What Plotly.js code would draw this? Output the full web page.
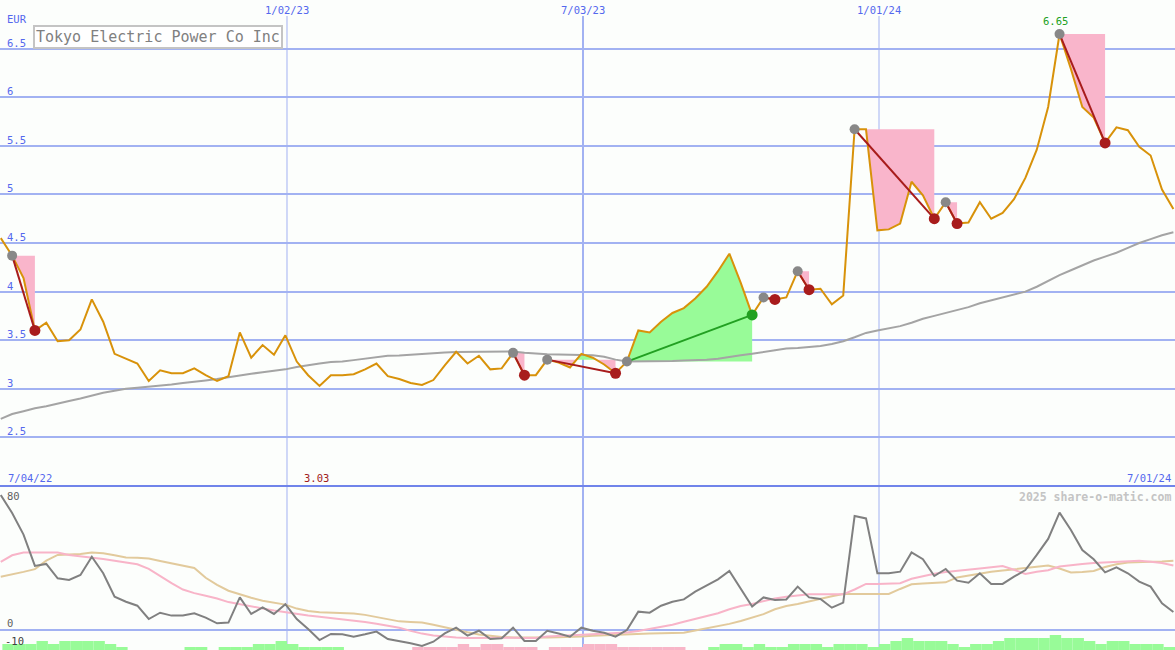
<!DOCTYPE html>
<html><head><meta charset="utf-8">
<script src="https://cdn.plot.ly/plotly-3.0.1.min.js"></script>
<style>html,body{margin:0;padding:0;background:#fcfefc;} #chart{width:1175px;height:650px;}</style>
</head><body><div id="chart"></div>
<script>
// ---------- data ----------
const dates = ['2022-07-10','2022-07-17','2022-07-24','2022-07-31','2022-08-07','2022-08-14','2022-08-21','2022-08-28','2022-09-04','2022-09-11',
'2022-09-18','2022-09-25','2022-10-02','2022-10-09','2022-10-16','2022-10-23','2022-10-30','2022-11-06','2022-11-13','2022-11-20',
'2022-11-27','2022-12-04','2022-12-11','2022-12-18','2022-12-25','2023-01-01','2023-01-08','2023-01-15','2023-01-22','2023-01-29',
'2023-02-05','2023-02-12','2023-02-19','2023-02-26','2023-03-05','2023-03-12','2023-03-19','2023-03-26','2023-04-02','2023-04-09',
'2023-04-16','2023-04-23','2023-04-30','2023-05-07','2023-05-14','2023-05-21','2023-05-28','2023-06-04','2023-06-11','2023-06-18',
'2023-06-25','2023-07-02','2023-07-09','2023-07-16','2023-07-23','2023-07-30','2023-08-06','2023-08-13','2023-08-20','2023-08-27',
'2023-09-03','2023-09-10','2023-09-17','2023-09-24','2023-10-01','2023-10-08','2023-10-15','2023-10-22','2023-10-29','2023-11-05',
'2023-11-12','2023-11-19','2023-11-26','2023-12-03','2023-12-10','2023-12-17','2023-12-24','2023-12-31','2024-01-07','2024-01-14',
'2024-01-21','2024-01-28','2024-02-04','2024-02-11','2024-02-18','2024-02-25','2024-03-03','2024-03-10','2024-03-17','2024-03-24',
'2024-03-31','2024-04-07','2024-04-14','2024-04-21','2024-04-28','2024-05-05','2024-05-12','2024-05-19','2024-05-26','2024-06-02',
'2024-06-09','2024-06-16','2024-06-23','2024-06-30'];

const price = [4.55,4.37,4.14,3.60,3.68,3.49,3.50,3.61,3.92,3.69,
 3.36,3.31,3.26,3.08,3.19,3.16,3.16,3.21,3.14,3.08,
 3.13,3.58,3.32,3.45,3.35,3.55,3.28,3.14,3.03,3.14,
 3.14,3.15,3.20,3.26,3.13,3.10,3.06,3.04,3.09,3.24,
 3.38,3.26,3.34,3.20,3.21,3.37,3.14,3.14,3.30,3.27,
 3.22,3.36,3.32,3.25,3.16,3.28,3.60,3.58,3.69,3.78,
 3.83,3.93,4.05,4.21,4.39,4.09,3.76,3.94,3.92,3.94,
 4.21,4.02,4.03,3.87,3.96,5.67,5.67,4.63,4.64,4.70,
 5.13,4.99,4.75,4.92,4.70,4.71,4.92,4.75,4.81,4.95,
 5.17,5.46,5.90,6.65,6.29,5.90,5.79,5.53,5.69,5.66,
 5.49,5.40,5.05,4.85];

const movingAvg = [2.69,2.74,2.77,2.80,2.82,2.85,2.875,2.90,2.93,2.96,
 2.98,3.00,3.01,3.02,3.03,3.045,3.06,3.07,3.085,3.10,
 3.12,3.14,3.155,3.17,3.185,3.20,3.225,3.245,3.26,3.275,
 3.28,3.295,3.31,3.33,3.34,3.342,3.35,3.36,3.37,3.373,
 3.378,3.38,3.38,3.383,3.384,3.384,3.37,3.36,3.355,3.352,
 3.35,3.35,3.345,3.33,3.30,3.28,3.28,3.28,3.283,3.285,
 3.29,3.293,3.298,3.31,3.33,3.345,3.36,3.38,3.40,3.415,
 3.42,3.43,3.44,3.46,3.49,3.53,3.575,3.60,3.62,3.645,
 3.68,3.72,3.75,3.78,3.81,3.84,3.88,3.91,3.94,3.97,
 4.00,4.05,4.11,4.17,4.22,4.27,4.32,4.36,4.40,4.45,
 4.50,4.54,4.58,4.61];

const oscillator = [75,65,53,35.6,36.7,28.7,27.8,30.6,40.7,31.5,
 18.5,15.7,13.5,6.1,9.6,8,8,9.3,6.9,3.7,
 4.1,18.1,8.9,12.6,8.9,14.3,6.1,0.6,-5.6,-2.2,
 -2.4,-3.7,-2.4,-0.9,-5,-6.1,-7.4,-8.9,-6.5,-1.9,
 1.3,-3.1,-0.4,-5,-4.6,1.3,-6.1,-6.1,-0.4,-1.9,
 -3.7,1.3,-0.4,-1.5,-3.7,0,10.2,9.6,13.5,15.7,
 17,21.3,24.6,28.1,32.8,22.8,13,18.1,16.7,17,
 24.1,18.1,17.2,12.4,15.2,63.3,62,31.5,31.5,32.4,
 43.1,39.3,30,33.9,27.4,26.3,31.5,25.6,25.6,29.6,
 33.3,41.7,50.6,65.2,55.6,44.4,39.3,32,34.8,31.5,
 26.9,24.1,14.8,10];

const oscFast = [37.9,41.5,43,43,43,43,41.7,41,40.4,39.5,
 38.5,37.5,36.5,34,30,26,22.5,20.5,19,17.5,
 15.5,14.2,13.3,12,10.8,9.8,8.8,8,7.3,6.7,
 5.9,5.5,4.5,3.5,2.3,1.2,-0.5,-2,-3,-3.8,
 -4.2,-4.4,-4.3,-4.3,-4.3,-4.3,-4.4,-4.4,-3.6,-3.3,
 -3.0,-2.6,-2.3,-2.0,-1.9,-1.4,-0.6,0.5,1.8,2.9,
 4.6,6.3,7.6,9.3,11.5,13.3,14.5,16.2,17.5,18.5,
 19.3,19.8,19.8,19.8,19.8,22.5,25.6,25.6,25.6,26,
 28.5,30,31.3,32.2,33,33.5,34.2,34.8,35.5,33.5,
 31.1,32.3,33.2,35.3,36.2,36.7,37.2,37.6,38.1,38.5,
 38.5,37.9,37.2,35.8];

const oscSlow = [29.6,30.8,32.3,33.8,38.5,41.7,42,42.2,43,42.6,
 41.5,40.3,40.1,39.7,38.3,37,35.8,34.5,29,25.1,
 21.8,19.7,17.9,16.2,15.3,14.1,11.9,10.5,9.8,9.7,
 9.5,9.2,8.4,7.2,6.1,4.8,4.4,4.1,2.9,1.4,
 0.1,-1.3,-2.5,-3.4,-3.9,-4.1,-4.2,-4.2,-4.1,-4,
 -3.9,-3.6,-3.2,-2.9,-2.5,-2.2,-2,-1.9,-1.8,-1.7,
 -1.5,-0.3,0.9,2.0,3.4,5.0,6.8,8.8,11.5,13.3,
 14.5,16,17.6,18.8,20,20,20,20,20,22.8,
 25.4,25.9,26.1,26.5,29.2,30.3,31.3,32.3,33,33.6,
 34.3,35.2,35.8,34.2,32,32.2,32.8,35,36.5,37.5,
 37.9,37.9,38.1,38.5];

const volumeLevels = [2,2,2,3,2,3,3,3,3,2,
 1,0,0,0,0,0,1,1,0,1,
 1,1,2,2,3,2,1,1,1,1,
 0,0,0,0,0,0,-1,-1,-1,-1,
 -2,-1,-2,-2,-1,-1,-1,0,-1,-1,
 -1,-2,-2,-2,-1,-1,-1,-1,-1,-1,
 0,0,1,2,2,1,2,1,1,2,
 2,2,1,2,2,2,1,2,3,4,
 3,3,3,2,1,2,2,3,4,4,
 4,4,5,4,4,3,2,3,3,2,
 2,2,1,1];

const signalStart = [1,45,48,55,67,70,75,83,93];
const signalEnd   = [3,46,54,66,68,71,82,84,97];

const priceTicks = [6.5,6,5.5,5,4.5,4,3.5,3,2.5];
const priceTickText = ['6.5','6','5.5','5','4.5','4','3.5','3','2.5'];
const oscTicks = [80,0,-10];
const oscTickText = ['80','0','-10'];
const dateTicks = ['2023-01-02','2023-07-03','2024-01-01'];
const dateTickText = ['1/02/23','7/03/23','1/01/24'];
const startLabel = '7/04/22', endLabel = '7/01/24';
const chartTitle = 'Tokyo Electric Power Co Inc';
const currencyLabel = 'EUR';
const creditLabel = '2025 share-o-matic.com';

// ---------- styles ----------
const C = {
  bg:'#fcfefc', grid:'#a2b2f2', sep:'#7084ea', tick:'#5468ee',
  price:'#d8920a', ma:'#a4a4a4', pinkFill:'#f9b5cb', greenFill:'#98fb98',
  down:'#a81c1c', up:'#22a022', startDot:'#888888',
  osc:'#808080', fast:'#f8b4c8', slow:'#e2ca9c', barUp:'#98fb98', barDown:'#f8b6c8'
};
const FONT = 'DejaVu Sans Mono';
const DAY = 86400000;
const ms = d => Date.parse(d + 'T00:00:00Z');
const xms = dates.map(ms);
const H = 650, LOW = 164/650;

const traces = [];

// volume-like bars (bottom strip)
traces.push({type:'bar', x:dates, y:volumeLevels.map(v => v>0 ? v : null), yaxis:'y3', xaxis:'x',
  offset:DAY, width:7*DAY, marker:{color:C.barUp, line:{width:0}}, hoverinfo:'skip'});
traces.push({type:'bar', x:dates, y:volumeLevels.map(v => v<0 ? -v : null), yaxis:'y3', xaxis:'x',
  offset:DAY, width:7*DAY, marker:{color:C.barDown, line:{width:0}}, hoverinfo:'skip'});

// lower oscillator lines
traces.push({type:'scatter', mode:'lines', x:dates, y:oscSlow, yaxis:'y2', line:{color:C.slow, width:2}, hoverinfo:'skip'});
traces.push({type:'scatter', mode:'lines', x:dates, y:oscFast, yaxis:'y2', line:{color:C.fast, width:2}, hoverinfo:'skip'});
traces.push({type:'scatter', mode:'lines', x:dates, y:oscillator, yaxis:'y2', line:{color:C.osc, width:2}, hoverinfo:'skip'});

// signal fills
for (let k=0; k<signalStart.length; k++) {
  const s = signalStart[k], e = signalEnd[k], L = price[s];
  const px = [], py = [];
  for (let i=s; i<e; i++) {
    px.push(xms[i]); py.push(price[i]);
    const a = price[i]-L, b = price[i+1]-L;
    if (a*b < 0) { const t = -a/(b-a); px.push(xms[i] + t*(xms[i+1]-xms[i])); py.push(L); }
  }
  px.push(xms[e]); py.push(price[e]);
  const poly = (fn) => ({x: px.concat([xms[e], xms[s]]), y: py.map(fn).concat([L, L])});
  if (py.some(v => v < L)) {
    const p = poly(v => Math.min(v, L));
    traces.push({type:'scatter', mode:'lines', x:p.x, y:p.y, fill:'toself', fillcolor:C.pinkFill, line:{width:0}, hoverinfo:'skip'});
  }
  if (py.some(v => v > L)) {
    const p = poly(v => Math.max(v, L));
    traces.push({type:'scatter', mode:'lines', x:p.x, y:p.y, fill:'toself', fillcolor:C.greenFill, line:{width:0}, hoverinfo:'skip'});
  }
}

// moving average and price
traces.push({type:'scatter', mode:'lines', x:dates, y:movingAvg, line:{color:C.ma, width:2}, hoverinfo:'skip'});
traces.push({type:'scatter', mode:'lines', x:dates, y:price, line:{color:C.price, width:2}, hoverinfo:'skip'});

// signal connectors and markers
for (let k=0; k<signalStart.length; k++) {
  const s = signalStart[k], e = signalEnd[k];
  const col = price[e] < price[s] ? C.down : C.up;
  traces.push({type:'scatter', mode:'lines', x:[dates[s], dates[e]], y:[price[s], price[e]], line:{color:col, width:2}, hoverinfo:'skip'});
}
traces.push({type:'scatter', mode:'markers', x:signalStart.map(i=>dates[i]), y:signalStart.map(i=>price[i]),
  marker:{color:C.startDot, size:10}, hoverinfo:'skip'});
traces.push({type:'scatter', mode:'markers', x:signalEnd.map(i=>dates[i]), y:signalEnd.map(i=>price[i]),
  marker:{color:signalEnd.map((e,k)=> price[e] < price[signalStart[k]] ? C.down : C.up), size:11}, hoverinfo:'skip'});

// ---------- annotations ----------
const ann = [];
const tf = (size, color, weight) => ({family:FONT, size:size, color:color, weight:weight||'normal'});
priceTicks.forEach((v,i) => ann.push({xref:'paper', yref:'y', x:5/1175, y:v, xanchor:'left', yanchor:'bottom',
  yshift:-2, text:priceTickText[i], showarrow:false, font:tf(10.5, C.tick)}));
ann.push({xref:'paper', yref:'paper', x:5/1175, y:1-27/H, xanchor:'left', yanchor:'bottom', text:currencyLabel, showarrow:false, font:tf(10.5, C.tick)});
dateTicks.forEach((d,i) => ann.push({xref:'x', yref:'paper', x:d, y:1-2/H, xanchor:'center', yanchor:'top',
  text:dateTickText[i], showarrow:false, font:tf(10.5, C.tick)}));
ann.push({xref:'paper', yref:'paper', x:6/1175, y:(H-486)/H, xanchor:'left', yanchor:'bottom', text:startLabel, showarrow:false, font:tf(10.5, C.tick)});
ann.push({xref:'paper', yref:'paper', x:1173/1175, y:(H-486)/H, xanchor:'right', yanchor:'bottom', text:endLabel, showarrow:false, font:tf(10.5, C.tick)});
// min / max labels
let iMin = 0, iMax = 0;
price.forEach((v,i) => { if (v < price[iMin]) iMin = i; if (v > price[iMax]) iMax = i; });
ann.push({xref:'x', yref:'paper', x:dates[iMin], y:(H-486)/H, xanchor:'center', yanchor:'bottom', xshift:-3,
  text:price[iMin].toFixed(2), showarrow:false, font:tf(10.5, '#a01c1c')});
ann.push({xref:'x', yref:'y', x:dates[iMax], y:price[iMax], xanchor:'center', yanchor:'bottom', xshift:-4, yshift:5,
  text:price[iMax].toFixed(2), showarrow:false, font:tf(10.5, C.up)});
// oscillator axis labels
ann.push({xref:'paper', yref:'y2', x:5/1175, y:oscTicks[0], xanchor:'left', yanchor:'top', yshift:-2, text:oscTickText[0], showarrow:false, font:tf(10.5,'#606060')});
ann.push({xref:'paper', yref:'y2', x:5/1175, y:oscTicks[1], xanchor:'left', yanchor:'bottom', yshift:-1, text:oscTickText[1], showarrow:false, font:tf(10.5,'#606060')});
ann.push({xref:'paper', yref:'y2', x:3/1175, y:oscTicks[2], xanchor:'left', yanchor:'bottom', yshift:-1, text:oscTickText[2], showarrow:false, font:tf(10.5,'#404040')});
ann.push({xref:'paper', yref:'paper', x:1173/1175, y:(H-488)/H, xanchor:'right', yanchor:'top', text:creditLabel, showarrow:false, font:tf(11.5,'#c4c4c4','bold')});
// title box
ann.push({xref:'paper', yref:'paper', x:33/1175, y:1-25/H, xanchor:'left', yanchor:'top', text:chartTitle, showarrow:false,
  bordercolor:'#c4c4c4', borderwidth:2, borderpad:1, bgcolor:'#ffffff', font:tf(15,'#808080')});

// ---------- shapes ----------
const shapes = dateTicks.map((d,i) => ({type:'line', xref:'x', yref:'paper', x0:d, x1:d, y0:0, y1:1-16/H,
  line:{color:C.grid, width: i===1 ? 2 : 1}, layer:'below'}));
shapes.push({type:'line', xref:'paper', yref:'paper', x0:0, x1:1, y0:LOW, y1:LOW, line:{color:C.sep, width:2}});

const layout = {
  width:1175, height:650, margin:{l:0,r:0,t:0,b:0},
  paper_bgcolor:C.bg, plot_bgcolor:C.bg, showlegend:false, barmode:'overlay',
  xaxis:{type:'date', range:['2022-07-09 13:00','2024-06-30 23:48'], showgrid:false, zeroline:false,
    showticklabels:false, showline:false, ticks:'', anchor:'y2', fixedrange:true},
  yaxis:{domain:[LOW,1], range:[2.0,7.0], tickvals:priceTicks, showticklabels:false, gridcolor:C.grid, gridwidth:2,
    zeroline:false, showline:false, ticks:'', fixedrange:true},
  yaxis2:{domain:[0,LOW], range:[-11.11,80], tickvals:[0], showticklabels:false, gridcolor:C.grid, gridwidth:2,
    zeroline:false, showline:false, ticks:'', fixedrange:true},
  yaxis3:{overlaying:'y2', range:[0,164/3], visible:false, fixedrange:true},
  annotations:ann, shapes:shapes
};
Plotly.newPlot('chart', traces, layout, {staticPlot:true, displayModeBar:false});
</script></body></html>
